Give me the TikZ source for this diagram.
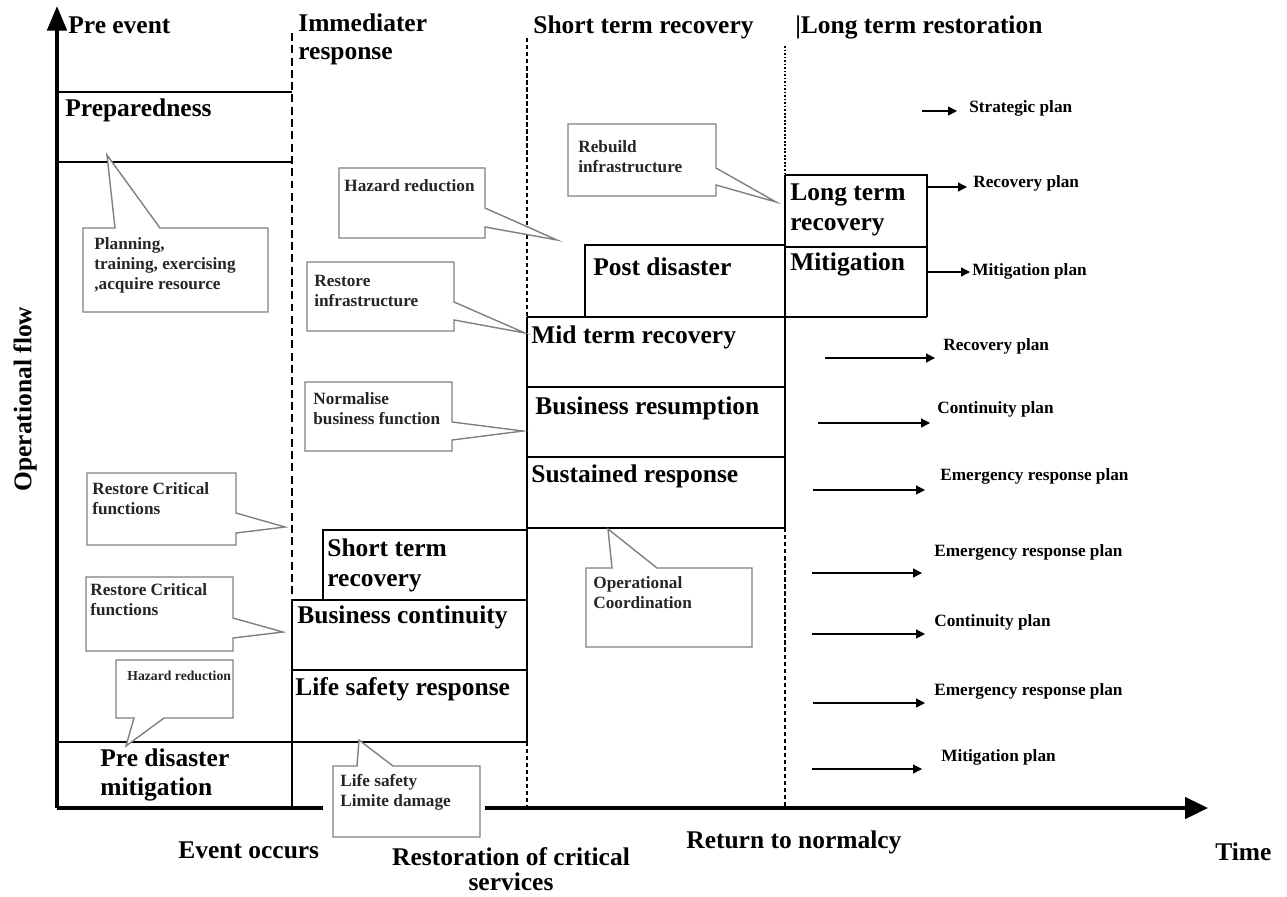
\documentclass[tikz,border=0pt]{standalone}
\usepackage{fontspec}
\setmainfont{Liberation Serif}
\usetikzlibrary{arrows.meta}
\begin{document}
\begin{tikzpicture}[x=0.02cm,y=-0.02cm,
  big/.style={font=\fontsize{14.5}{17}\selectfont\bfseries, inner sep=0pt, anchor=west, align=left},
  small/.style={font=\fontsize{9.8}{11.4}\selectfont\bfseries, inner sep=0pt, anchor=west, align=left, text=black!85},
  tiny/.style={font=\fontsize{7.8}{9}\selectfont\bfseries, inner sep=0pt, anchor=west, text=black!85},
  plan/.style={font=\fontsize{9.8}{11}\selectfont\bfseries, inner sep=0pt, anchor=west},
  boxline/.style={line width=1.1pt},
  thinline/.style={line width=0.7pt},
  callout/.style={draw=black!50, line width=0.8pt, fill=white, line join=miter},
  dashA/.style={line width=0.9pt, dash pattern=on 4.5pt off 2.5pt},
  dashB/.style={line width=0.6pt, dash pattern=on 2.5pt off 1.5pt},
  dashC/.style={line width=1pt, dash pattern=on 2pt off 2pt},
  dotD/.style={line width=0.6pt, dash pattern=on 1pt off 1pt},
  axis/.style={line width=2.2pt},
  planarrow/.style={line width=0.7pt, -{Triangle[length=5pt,width=5pt]}}]
\useasboundingbox (0,0) rectangle (1287,896);

% ---------- dashed column separators ----------
\draw[dashA] (292,33) -- (292,600);
\draw[dashB] (527,38) -- (527,317);
\draw[dashC] (527,742) -- (527,808);
\draw[dotD] (785,46) -- (785,175);
\draw[dashB] (785,528) -- (785,808);

% ---------- boxes ----------
\draw[thinline] (57,92) -- (292,92);
\draw[boxline] (57,162) -- (292,162);
\draw[boxline] (57,742) -- (527,742);
\draw[boxline] (292,742) -- (292,808);
\draw[boxline] (323,600) -- (323,530) -- (527,530);
\draw[boxline] (292,600) -- (527,600);
\draw[boxline] (292,600) -- (292,742);
\draw[boxline] (292,670) -- (527,670);
\draw[boxline] (527,317) -- (527,742);
\draw[boxline] (527,317) -- (927,317);
\draw[boxline] (527,387) -- (785,387);
\draw[boxline] (527,457) -- (785,457);
\draw[boxline] (527,528) -- (785,528);
\draw[boxline] (785,175) -- (785,528);
\draw[boxline] (585,317) -- (585,245) -- (785,245);
\draw[boxline] (785,175) -- (927,175) -- (927,317);
\draw[boxline] (785,247) -- (927,247);

% ---------- axes ----------
\coordinate (origin) at (57,808);
\coordinate (ytip) at (57,6);
\coordinate (xtip) at (1208,808);
\draw[axis, -{Triangle[length=14pt,width=11pt]}] (origin) -- (ytip);
\draw[axis, -{Triangle[length=13pt,width=12pt]}] (origin) -- (xtip);

% ---------- callouts ----------
\draw[callout] (83,228) -- (115,228) -- (107,155) -- (160,228) -- (268,228) -- (268,312) -- (83,312) -- cycle;
\draw[callout] (339,168) -- (485,168) -- (485,208) -- (557,240) -- (485,227) -- (485,238) -- (339,238) -- cycle;
\draw[callout] (568,124) -- (716,124) -- (716,168) -- (776,202) -- (716,185) -- (716,196) -- (568,196) -- cycle;
\draw[callout] (307,262) -- (454,262) -- (454,302) -- (525,333) -- (454,320) -- (454,331) -- (307,331) -- cycle;
\draw[callout] (305,382) -- (452,382) -- (452,422) -- (523,431) -- (452,440) -- (452,451) -- (305,451) -- cycle;
\draw[callout] (87,473) -- (236,473) -- (236,513) -- (285,527) -- (236,533) -- (236,545) -- (87,545) -- cycle;
\draw[callout] (86,577) -- (233,577) -- (233,618) -- (283,632) -- (233,638) -- (233,651) -- (86,651) -- cycle;
\draw[callout] (116,660) -- (233,660) -- (233,718) -- (164,718) -- (126,746) -- (134,718) -- (116,718) -- cycle;
\fill[white] (323,800) rectangle (485,816);
\draw[callout] (333,766) -- (357,766) -- (359,740) -- (393,766) -- (480,766) -- (480,837) -- (333,837) -- cycle;
\draw[callout] (586,568) -- (612,568) -- (608,529) -- (657,568) -- (752,568) -- (752,647) -- (586,647) -- cycle;

\node[small] (planning) at (94,265) {Planning,\\training, exercising\\,acquire resource};
\node[small] (hazard1) at (344,186) {Hazard reduction};
\node[small] (rebuild) at (578,157) {Rebuild\\infrastructure};
\node[small] (restinfra) at (314,291) {Restore\\infrastructure};
\node[small] (normalise) at (313,409) {Normalise\\business function};
\node[small] (restcrit1) at (92,499) {Restore Critical\\functions};
\node[small] (restcrit2) at (90,600) {Restore Critical\\functions};
\node[tiny] (hazard2) at (127,676) {Hazard reduction};
\node[small] (lifesafety) at (340,792) {Life safety\\Limite damage};
\node[small] (opcoord) at (593,593) {Operational\\Coordination};

% ---------- headers ----------
\node[big] (preevent) at (68,25) {Pre event};
\node[big, font=\fontsize{14.5}{16}\selectfont\bfseries] (immediate) at (298,39) {Immediater\\response};
\node[big] (shortterm) at (533,27) {Short term recovery};
\node[big] (longterm) at (795,27) {|Long term restoration};

% ---------- phase labels ----------
\node[big] (prep) at (65,110) {Preparedness};
\node[big] (postdis) at (593,267) {Post disaster};
\node[big] (ltrec) at (790,210) {Long term\\recovery};
\node[big] (mitig) at (790,264) {Mitigation};
\node[big] (midterm) at (531,337) {Mid term recovery};
\node[big] (busres) at (535,408) {Business resumption};
\node[big] (sustained) at (531,476) {Sustained response};
\node[big] (strec) at (327,565) {Short term\\recovery};
\node[big] (buscont) at (297,617) {Business continuity};
\node[big] (lifesafe) at (295,689) {Life safety response};
\node[big] (predis) at (100,775) {Pre disaster\\mitigation};

% ---------- axis labels ----------
\node[big] (event) at (178,850) {Event occurs};
\node[big, anchor=center, align=center, font=\fontsize{14.5}{14.5}\selectfont\bfseries] (restoration) at (511,869) {Restoration of critical\\services};
\node[big] (normalcy) at (686,842) {Return to normalcy};
\node[big] (time) at (1215,852) {Time};
\node[big, anchor=center, rotate=90] (opflow) at (25,399) {Operational flow};

% ---------- plans ----------
\coordinate (s1) at (922,111);  \coordinate (e1) at (957,111);
\coordinate (s2) at (927,187);  \coordinate (e2) at (967,187);
\coordinate (s3) at (927,272);  \coordinate (e3) at (970,272);
\coordinate (s4) at (825,358);  \coordinate (e4) at (935,358);
\coordinate (s5) at (818,423);  \coordinate (e5) at (930,423);
\coordinate (s6) at (813,490);  \coordinate (e6) at (925,490);
\coordinate (s7) at (812,573);  \coordinate (e7) at (922,573);
\coordinate (s8) at (812,634);  \coordinate (e8) at (925,634);
\coordinate (s9) at (813,703);  \coordinate (e9) at (925,703);
\coordinate (s10) at (812,769); \coordinate (e10) at (922,769);
\foreach \i in {1,...,10} {\draw[planarrow] (s\i) -- (e\i);}

\node[plan] (p1) at (969,108) {Strategic plan};
\node[plan] (p2) at (973,183) {Recovery plan};
\node[plan] (p3) at (972,271) {Mitigation plan};
\node[plan] (p4) at (943,346) {Recovery plan};
\node[plan] (p5) at (937,409) {Continuity plan};
\node[plan] (p6) at (940,476) {Emergency response plan};
\node[plan] (p7) at (934,552) {Emergency response plan};
\node[plan] (p8) at (934,622) {Continuity plan};
\node[plan] (p9) at (934,691) {Emergency response plan};
\node[plan] (p10) at (941,757) {Mitigation plan};
\end{tikzpicture}
\end{document}
